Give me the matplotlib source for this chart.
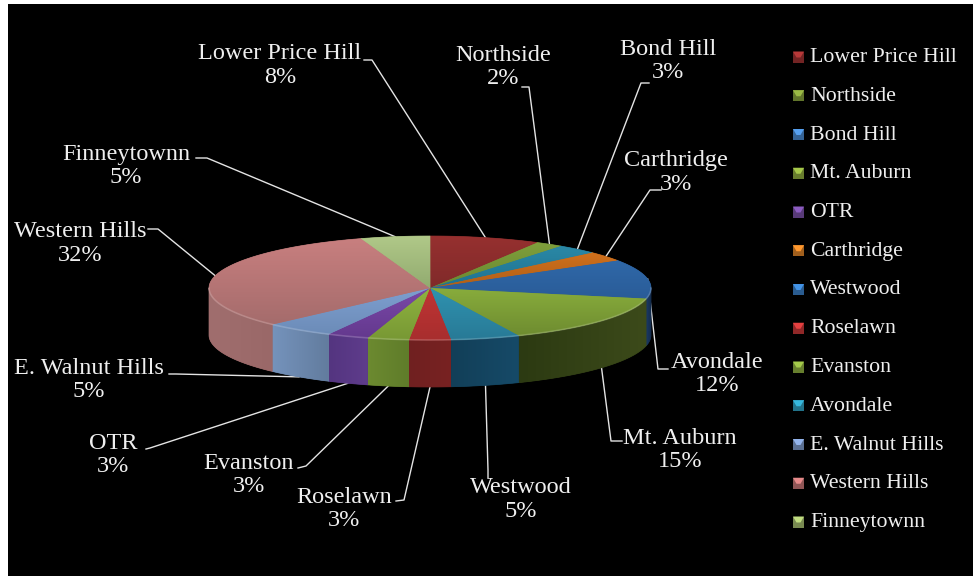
import numpy as np
import matplotlib
matplotlib.use("Agg")
import matplotlib.pyplot as plt
from matplotlib.patches import Polygon, Rectangle

plt.rcParams['font.family'] = ['Liberation Serif', 'DejaVu Serif']

# Pie slices, clockwise from twelve o'clock
neighborhoods = ["Lower Price Hill", "Northside", "Bond Hill", "Carthridge", "Avondale",
                 "Mt. Auburn", "Westwood", "Roselawn", "Evanston", "OTR",
                 "E. Walnut Hills", "Western Hills", "Finneytownn"]
shares = [8, 2, 3, 3, 12, 15, 5, 3, 3, 3, 5, 32, 5]

# Slice shading: top face (upper, lower) and side face (leftmost, rightmost)
top_upper = ["#96302f", "#7f9f3c", "#2a88a6", "#d0701c", "#2f68a8", "#88ac3c", "#2f92b0",
             "#c03434", "#8fb440", "#7a48a8", "#7e9fd0", "#c87f7f", "#b0c888"]
top_lower = ["#802a2a", "#6a8830", "#1f7290", "#b05f18", "#2a5c98", "#6e8c30", "#287a96",
             "#a82e2e", "#789834", "#64398e", "#6c8cb8", "#a56c6c", "#92ab70"]
side_left = ["#5c1c1c", "#4c6122", "#14475a", "#703c0c", "#1b3a66", "#2c3a12", "#123f58",
             "#702020", "#6c8a30", "#543580", "#7593bc", "#a06e6e", "#7f9460"]
side_right = ["#5c1c1c", "#4c6122", "#14475a", "#703c0c", "#142c4c", "#3c4a1a", "#164a68",
              "#782222", "#5f7c2a", "#5f3c8c", "#627c9e", "#9a6868", "#7f9460"]

# Legend entries run in their own order
legend_names = ["Lower Price Hill", "Northside", "Bond Hill", "Mt. Auburn", "OTR", "Carthridge",
                "Westwood", "Roselawn", "Evanston", "Avondale", "E. Walnut Hills",
                "Western Hills", "Finneytownn"]
legend_colors = ["#a03232", "#87a23c", "#4a8ad0", "#90ae40", "#7a50a8", "#e08428",
                 "#3a80c8", "#c83838", "#8fb040", "#2fa0c0", "#7f9ccc", "#c87878", "#a8c070"]
legend_rows = np.linspace(57, 522, len(legend_names))

# Data label anchor and the elbow its leader line leaves from
label_xy = {"Lower Price Hill": (280, 65.5), "Northside": (503, 67), "Bond Hill": (668, 61),
            "Carthridge": (676, 172.5), "Avondale": (717, 374), "Mt. Auburn": (680, 450),
            "Westwood": (521, 499.5), "Roselawn": (344, 509), "Evanston": (249, 475),
            "OTR": (113, 455), "E. Walnut Hills": (89, 380), "Western Hills": (80, 243.5),
            "Finneytownn": (126, 166)}
leader_xy = {"Lower Price Hill": [(364, 60), (372, 60)], "Northside": [(522, 87), (529, 87)],
             "Bond Hill": [(649, 83), (641, 83)], "Carthridge": [(661, 190), (650, 190)],
             "Avondale": [(668, 369), (658, 369)], "Mt. Auburn": [(622, 441), (611, 441)],
             "Westwood": [(488, 478), (488, 470)], "Roselawn": [(396, 501), (404, 500)],
             "Evanston": [(298, 468), (306, 466)], "OTR": [(146, 449), (150, 448)],
             "E. Walnut Hills": [(169, 374), (176, 374)], "Western Hills": [(148, 229), (158, 229)],
             "Finneytownn": [(196, 158), (207, 158)]}

# Projected pie geometry, in figure pixels
cx, cy, rx, ry, depth = 430.0, 288.0, 221.0, 52.0, 47.0


def rim(theta, drop=0.0):
    return cx + rx * np.sin(theta), cy - ry * np.cos(theta) + drop


def shaded(ax, xy, c0, c1, vertical, z):
    """Fill a polygon with a two-stop gradient."""
    xy = np.asarray(xy)
    x0, y0 = xy.min(axis=0)
    x1, y1 = xy.max(axis=0)
    a, b = np.array(matplotlib.colors.to_rgb(c0)), np.array(matplotlib.colors.to_rgb(c1))
    t = np.linspace(0, 1, 64)[:, None]
    ramp = (a * (1 - t) + b * t)[:, None, :] if vertical else (a * (1 - t) + b * t)[None, :, :]
    base = Polygon(xy, closed=True, facecolor=(a + b) / 2, edgecolor=(a + b) / 2, lw=0.5, zorder=z)
    ax.add_patch(base)
    im = ax.imshow(ramp, extent=(x0, x1, y1, y0), aspect="auto", zorder=z + 0.1,
                   interpolation="bilinear")
    im.set_clip_path(Polygon(xy, closed=True, transform=ax.transData))


fig = plt.figure(figsize=(9.73, 5.76), dpi=100, facecolor="white")
ax = fig.add_axes([0, 0, 1, 1])
ax.add_patch(Rectangle((8, 4), 965, 572, facecolor="black", edgecolor="none", zorder=0))

fractions = np.cumsum([0] + shares) / sum(shares)
angles = 2 * np.pi * fractions

# Side wall: only the front half of the rim shows
for i in range(len(shares)):
    a0, a1 = max(angles[i], np.pi / 2), min(angles[i + 1], 3 * np.pi / 2)
    if a1 <= a0:
        continue
    th = np.linspace(a0, a1, 60)
    xt, yt = rim(th)
    xb, yb = rim(th[::-1], depth)
    shaded(ax, np.r_[np.c_[xt, yt], np.c_[xb, yb]], side_left[i], side_right[i], False, 2 + i * 0.01)

# Top face
for i in range(len(shares)):
    th = np.linspace(angles[i], angles[i + 1], 60)
    xt, yt = rim(th)
    shaded(ax, np.r_[[(cx, cy)], np.c_[xt, yt]], top_upper[i], top_lower[i], True, 3 + i * 0.01)

# Soft highlight along the front of the top face
th = np.linspace(np.pi / 2, 3 * np.pi / 2, 200)
xt, yt = rim(th)
ax.plot(xt, yt, color="white", alpha=0.18, lw=1.2, zorder=4)

# Leader lines end on the rim at each slice's middle angle
for i, name in enumerate(neighborhoods):
    mid = (angles[i] + angles[i + 1]) / 2
    front = np.pi / 2 < mid < 3 * np.pi / 2
    ex, ey = rim(mid, depth if front else 0.0)
    pts = leader_xy[name] + [(ex, ey)]
    ax.plot(*zip(*pts), color="#e4e4e4", lw=1.0, zorder=1.5)
    lx, ly = label_xy[name]
    ax.text(lx, ly, f"{name}\n{shares[i]}%", color="#efefef", fontsize=17.5, ha="center",
            va="center", linespacing=1.17, zorder=6)

# Legend
for name, color, y in zip(legend_names, legend_colors, legend_rows):
    rgb = np.array(matplotlib.colors.to_rgb(color))
    ax.add_patch(Rectangle((793, y - 5.5), 11, 11, facecolor=rgb * 0.72, edgecolor="none", zorder=5))
    ax.add_patch(Polygon([(793, y - 5.5), (804, y - 5.5), (800.5, y + 0.5), (796.5, y + 0.5)],
                         facecolor=np.minimum(rgb * 1.15, 1), edgecolor="none", zorder=5.1))
    ax.text(810, y + 0.5, name, color="#efefef", fontsize=15.7, ha="left", va="center", zorder=6)

ax.set_xlim(0, 973)
ax.set_ylim(576, 0)
ax.axis("off")
fig.savefig("out.png", dpi=100, facecolor="white")
